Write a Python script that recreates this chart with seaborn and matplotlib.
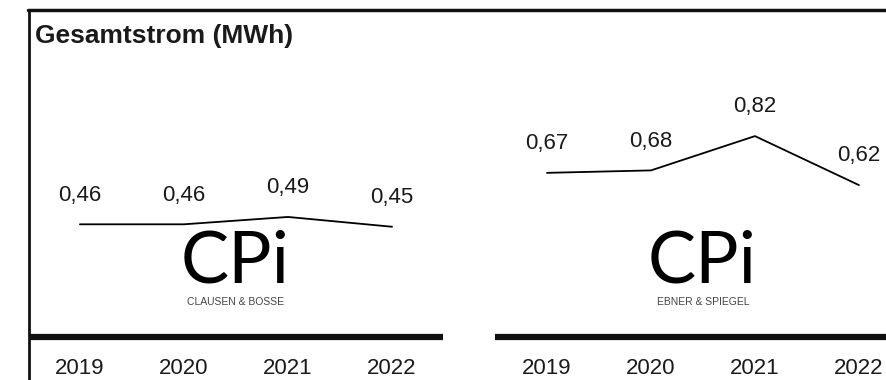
import pandas as pd
import matplotlib.pyplot as plt
import seaborn as sns
from matplotlib.lines import Line2D
from matplotlib.patches import Rectangle

# Data
years = ["2019", "2020", "2021", "2022"]
werte_clausen = [0.46, 0.46, 0.49, 0.45]
werte_ebner = [0.67, 0.68, 0.82, 0.62]
logo_unter = ["CLAUSEN & BOSSE", "EBNER & SPIEGEL"]

sns.set_theme(style="white")
plt.rcParams['font.family'] = ['Liberation Sans', 'DejaVu Sans']

W, H = 887, 380
fig = plt.figure(figsize=(W / 100, H / 100), dpi=100)


def px_axes(x0, x1, y_top, y_bot):
    # pixel box -> figure fraction
    return [x0 / W, 1 - y_bot / H, (x1 - x0) / W, (y_bot - y_top) / H]


ax1 = fig.add_axes(px_axes(30, 443, 60, 337))
ax2 = fig.add_axes(px_axes(495, 887, 60, 337), sharey=ax1)

panels = [(ax1, werte_clausen, logo_unter[0], (-0.48, 3.49)),
          (ax2, werte_ebner, logo_unter[1], (-0.5, 3.27))]

for ax, werte, unter, xl in panels:
    df = pd.DataFrame({'Jahr': years, 'Wert': werte})
    sns.lineplot(data=df, x='Jahr', y='Wert', ax=ax, color='black', linewidth=1.3)

    # value labels above each point
    for i, v in enumerate(werte):
        ax.annotate(f"{v:.2f}".replace('.', ','), (i, v), xytext=(0, 21),
                    textcoords='offset points', ha='center', va='center',
                    fontsize=16, color='#1a1a1a')

    # company logo (as text), cut off on the right like the original image
    logo = ax.text(0.97, 0.222, "CPi", ha='left', va='baseline', fontsize=52,
                   family=['Lato', 'DejaVu Sans'], fontweight='normal', color='black')
    logo.set_clip_path(Rectangle((0.9, 0), 1.1, 1, transform=ax.transData))
    ax.text(1.5, 0.143, unter, ha='center', va='center', fontsize=7.5,
            color='#444444')

    ax.set_xlim(*xl)
    ax.set_ylim(0, (337 - 60) / 245)
    ax.set_xlabel("")
    ax.set_ylabel("")
    ax.set_yticks([])
    for s in ['top', 'left', 'right']:
        ax.spines[s].set_visible(False)
    ax.spines['bottom'].set_linewidth(4.5)
    ax.spines['bottom'].set_color('#111111')
    ax.spines['bottom'].set_capstyle('butt')
    ax.tick_params(axis='x', length=0, pad=15, labelsize=16, labelcolor='#1a1a1a')
    ax.patch.set_alpha(0)

# frame lines at top and left
fig.add_artist(Line2D([28 / W, 1], [1 - 9.5 / H, 1 - 9.5 / H], color='#111111', linewidth=2.5))
fig.add_artist(Line2D([29.5 / W, 29.5 / W], [0, 1 - 9.5 / H], color='#111111', linewidth=2.0))

fig.text(35 / W, 1 - 36 / H, "Gesamtstrom (MWh)", fontsize=19, fontweight='bold',
         ha='left', va='center', color='#1a1a1a')

fig.savefig("out.png", dpi=100)
